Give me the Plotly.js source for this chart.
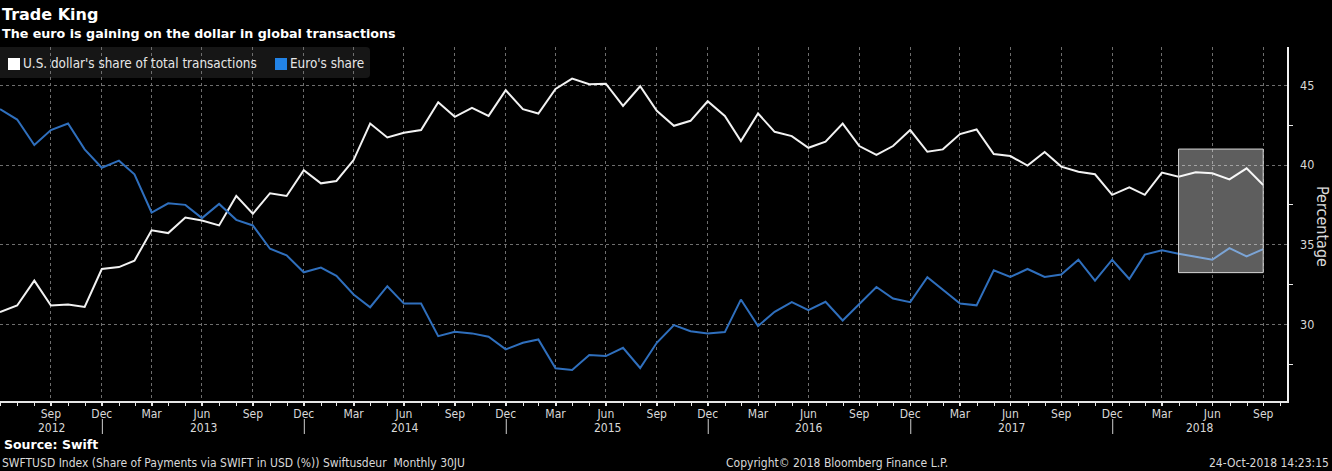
<!DOCTYPE html>
<html>
<head>
<meta charset="utf-8">
<script src="https://cdn.plot.ly/plotly-3.0.1.min.js"></script>
<style>
  html, body { margin: 0; padding: 0; background: #000; }
  #chart { width: 1332px; height: 471px; }
</style>
</head>
<body>
<div id="chart"></div>
<script>
// ---------------- DATA ----------------
const months = [
  '2012-06','2012-07','2012-08','2012-09','2012-10','2012-11','2012-12',
  '2013-01','2013-02','2013-03','2013-04','2013-05','2013-06','2013-07','2013-08','2013-09','2013-10','2013-11','2013-12',
  '2014-01','2014-02','2014-03','2014-04','2014-05','2014-06','2014-07','2014-08','2014-09','2014-10','2014-11','2014-12',
  '2015-01','2015-02','2015-03','2015-04','2015-05','2015-06','2015-07','2015-08','2015-09','2015-10','2015-11','2015-12',
  '2016-01','2016-02','2016-03','2016-04','2016-05','2016-06','2016-07','2016-08','2016-09','2016-10','2016-11','2016-12',
  '2017-01','2017-02','2017-03','2017-04','2017-05','2017-06','2017-07','2017-08','2017-09','2017-10','2017-11','2017-12',
  '2018-01','2018-02','2018-03','2018-04','2018-05','2018-06','2018-07','2018-08','2018-09'
];

const usdShare = [
  30.77, 31.19, 32.75, 31.19, 31.25, 31.10, 33.48,
  33.60, 34.00, 35.90, 35.73, 36.71, 36.52, 36.21, 38.06, 36.94, 38.23, 38.06, 39.67,
  38.85, 39.00, 40.31, 42.60, 41.73, 42.02, 42.19, 43.94, 43.02, 43.58, 43.08, 44.69,
  43.50, 43.23, 44.77, 45.42, 45.06, 45.10, 43.71, 44.94, 43.40, 42.46, 42.77, 44.00,
  43.08, 41.50, 43.23, 42.08, 41.81, 41.08, 41.46, 42.60, 41.19, 40.63, 41.19, 42.19,
  40.83, 40.98, 41.94, 42.23, 40.69, 40.56, 39.96, 40.81, 39.90, 39.58, 39.42, 38.13,
  38.60, 38.13, 39.52, 39.27, 39.54, 39.48, 39.10, 39.79, 38.75
];

const eurShare = [
  43.50, 42.85, 41.25, 42.19, 42.60, 40.98, 39.83,
  40.27, 39.42, 37.02, 37.60, 37.50, 36.67, 37.56, 36.56, 36.21, 34.75, 34.33, 33.27,
  33.57, 33.05, 31.88, 31.08, 32.40, 31.31, 31.31, 29.27, 29.54, 29.44, 29.23, 28.44,
  28.85, 29.06, 27.25, 27.15, 28.08, 28.02, 28.54, 27.27, 28.85, 29.96, 29.58, 29.44,
  29.52, 31.56, 29.90, 30.79, 31.40, 30.90, 31.42, 30.25, 31.29, 32.35, 31.63, 31.40,
  32.96, 32.15, 31.31, 31.20, 33.40, 32.98, 33.48, 32.98, 33.13, 34.06, 32.75, 34.06,
  32.85, 34.38, 34.65, 34.44, 34.25, 34.06, 34.79, 34.27, 34.73
];

const monthNames = ['Jan','Feb','Mar','Apr','May','Jun','Jul','Aug','Sep','Oct','Nov','Dec'];
const yTicks = [30, 35, 40, 45];
const yMinorTicks = [27.5, 32.5, 37.5, 42.5];

const seriesNames = ["U.S. dollar's share of total transactions", "Euro's share"];
const titleText = 'Trade King';
const subtitleText = 'The euro is gaining on the dollar in global transactions';
const sourceText = 'Source: Swift';
const footerText = 'SWFTUSD Index (Share of Payments via SWIFT in USD (%)) Swiftusdeur  Monthly 30JU';
const copyrightText = 'Copyright\u00A9 2018 Bloomberg Finance L.P.';
const stampText = '24-Oct-2018 14:23:15';
const yTitle = 'Percentage';

// highlighted window (Apr-Sep 2018)
const highlight = { from: '2018-04', to: '2018-09', low: 33.25, high: 41.0 };

// ---------------- HELPERS ----------------
function monthEnd(s) {
  const [y, m] = s.split('-').map(Number);
  return new Date(Date.UTC(y, m, 0)).toISOString().slice(0, 10);
}
const xDates = months.map(monthEnd);

const W = 1332, H = 471;
const M = { l: 0, r: 45, t: 47, b: 70 };
const PW = W - M.l - M.r, PH = H - M.t - M.b;
const PX = px => (px - M.l) / PW;
const PY = py => (H - M.b - py) / PH;

const xRange = ['2012-06-30', '2018-11-12'];
const yRange = [25.2, 47.4];

// quarterly ticks (skip the first point at the left edge)
const tickIdx = months.map((m, i) => i).filter(i => i > 0 && Number(months[i].slice(5)) % 3 === 0);
const tickVals = tickIdx.map(i => xDates[i]);
const tickText = tickIdx.map(i => monthNames[Number(months[i].slice(5)) - 1]);

const FONT = "'DejaVu Sans Condensed', 'DejaVu Sans', sans-serif";
const BOLD = "'DejaVu Sans', sans-serif";
const TXT = '#d9d9d9';
const WHITE = '#f2f2f2';
const BLUE = '#2f6fbd';
const BLUE_KEY = '#2283e6';
const GRID = '#6e6e6e';

// ---------------- TRACES ----------------
const traces = [
  { x: xDates, y: usdShare, type: 'scatter', mode: 'lines', name: seriesNames[0],
    line: { color: WHITE, width: 2 }, showlegend: false, hoverinfo: 'x+y' },
  { x: xDates, y: eurShare, type: 'scatter', mode: 'lines', name: seriesNames[1],
    line: { color: BLUE, width: 2 }, showlegend: false, hoverinfo: 'x+y' },
  // tick arrows on the right axis
  { x: yTicks.map(() => PX(1291)), y: yTicks, xaxis: 'x2', yaxis: 'y', type: 'scatter', mode: 'markers',
    marker: { symbol: 'triangle-left', size: 8, color: '#f2f2f2', line: { width: 0 } },
    cliponaxis: false, showlegend: false, hoverinfo: 'skip' }
];

// ---------------- ANNOTATIONS ----------------
const annotations = [];
function txt(text, px, py, size, opts = {}) {
  annotations.push(Object.assign({
    text, xref: 'paper', yref: 'paper', x: PX(px), y: PY(py),
    xanchor: 'left', yanchor: 'middle', showarrow: false,
    font: { family: FONT, size, color: TXT }
  }, opts));
}
txt(titleText, 0, 14, 16, { font: { family: BOLD, size: 16, color: '#ffffff' }, text: '<b>' + titleText + '</b>' });
txt(subtitleText, 0, 33, 12.7, { font: { family: BOLD, size: 12.7, color: '#ffffff' }, text: '<b>' + subtitleText + '</b>' });
txt(seriesNames[0], 21, 64, 13.4, { font: { family: FONT, size: 13.4, color: '#e6e6e6' } });
txt(seriesNames[1], 288, 64, 13.4, { font: { family: FONT, size: 13.4, color: '#e6e6e6' } });
txt('<b>' + sourceText + '</b>', 2, 444, 12.5, { font: { family: BOLD, size: 12.5, color: '#ffffff' } });
txt(footerText, 0, 463, 12, { font: { family: FONT, size: 12, color: TXT } });
txt(copyrightText, 724, 463, 12, { font: { family: FONT, size: 12, color: TXT } });
txt(stampText, 1331, 463, 12, { xanchor: 'right', font: { family: FONT, size: 12, color: TXT } });
annotations.push({
  text: yTitle, xref: 'paper', yref: 'paper', x: PX(1323), y: PY(226),
  xanchor: 'center', yanchor: 'middle', textangle: 90, showarrow: false,
  font: { family: FONT, size: 16, color: TXT }
});

// year labels centred in visible part of each year
const r0 = Date.parse(xRange[0]), r1 = Date.parse(xRange[1]);
const years = [...new Set(months.map(m => m.slice(0, 4)))];
years.forEach(y => {
  const a = Math.max(r0, Date.UTC(+y, 0, 1));
  const b = Math.min(r1, Date.UTC(+y + 1, 0, 1));
  annotations.push({
    text: y, xref: 'x', yref: 'paper', x: (a + b) / 2, y: PY(427.5),
    xanchor: 'center', yanchor: 'middle', showarrow: false,
    font: { family: FONT, size: 12, color: TXT }
  });
});

// ---------------- SHAPES ----------------
const shapes = [];
// legend background (rounded)
(function () {
  const x0 = 0, x1 = 370, y0 = 47, y1 = 78, r = 4;
  const p = (x, y) => PX(x) + ',' + PY(y);
  shapes.push({
    type: 'path', xref: 'paper', yref: 'paper', layer: 'below',
    path: 'M' + p(x0, y0) + ' L' + p(x1 - r, y0) + ' Q' + p(x1, y0) + ' ' + p(x1, y0 + r) +
          ' L' + p(x1, y1 - r) + ' Q' + p(x1, y1) + ' ' + p(x1 - r, y1) +
          ' L' + p(x0, y1) + ' Z',
    fillcolor: '#161616', line: { width: 0 }
  });
})();
// legend keys
shapes.push({ type: 'rect', xref: 'paper', yref: 'paper', x0: PX(8), x1: PX(20), y0: PY(70), y1: PY(58),
  fillcolor: '#ffffff', line: { width: 0 } });
shapes.push({ type: 'rect', xref: 'paper', yref: 'paper', x0: PX(275), x1: PX(287), y0: PY(70), y1: PY(58),
  fillcolor: BLUE_KEY, line: { width: 0 } });
// year separators
years.slice(1).forEach(y => {
  shapes.push({ type: 'line', xref: 'x', yref: 'paper', x0: y + '-01-01', x1: y + '-01-01',
    y0: PY(419), y1: PY(434), line: { color: '#cfcfcf', width: 1 } });
});
// highlight box
shapes.push({
  type: 'rect', xref: 'x', yref: 'y', layer: 'above',
  x0: monthEnd(highlight.from), x1: monthEnd(highlight.to),
  y0: highlight.low, y1: highlight.high,
  fillcolor: 'rgba(255,255,255,0.37)', line: { color: '#d6d6d6', width: 1 }
});

// ---------------- LAYOUT ----------------
const layout = {
  width: W, height: H,
  margin: M,
  paper_bgcolor: '#000', plot_bgcolor: '#000',
  showlegend: false,
  xaxis: {
    type: 'date', range: xRange, fixedrange: true,
    tickmode: 'array', tickvals: tickVals, ticktext: tickText,
    showgrid: true, gridcolor: GRID, griddash: 'dot', gridwidth: 1,
    showline: true, linecolor: '#e6e6e6', linewidth: 1.5,
    ticks: 'outside', ticklen: 3, tickcolor: '#e6e6e6', tickwidth: 1,
    ticklabelstandoff: -2,
    minor: { ticks: 'outside', ticklen: 3, tickcolor: '#e6e6e6', dtick: 'M1', tick0: '2012-07-01', showgrid: false },
    tickfont: { family: FONT, size: 12, color: TXT },
    zeroline: false
  },
  xaxis2: { overlaying: 'x', range: [0, 1], visible: false, fixedrange: true },
  yaxis: {
    side: 'right', range: yRange, fixedrange: true,
    tickmode: 'array', tickvals: yTicks,
    showgrid: true, gridcolor: GRID, griddash: 'dot', gridwidth: 1,
    showline: true, linecolor: '#f2f2f2', linewidth: 1.5,
    ticks: 'outside', ticklen: 9, tickcolor: 'rgba(0,0,0,0)',
    minor: { tickmode: 'array', tickvals: yMinorTicks, ticks: 'outside', ticklen: 4, tickcolor: '#e6e6e6', showgrid: false },
    tickfont: { family: FONT, size: 12.5, color: TXT },
    zeroline: false
  },
  annotations, shapes
};

Plotly.newPlot('chart', traces, layout, { displayModeBar: false, staticPlot: true });
</script>
</body>
</html>
